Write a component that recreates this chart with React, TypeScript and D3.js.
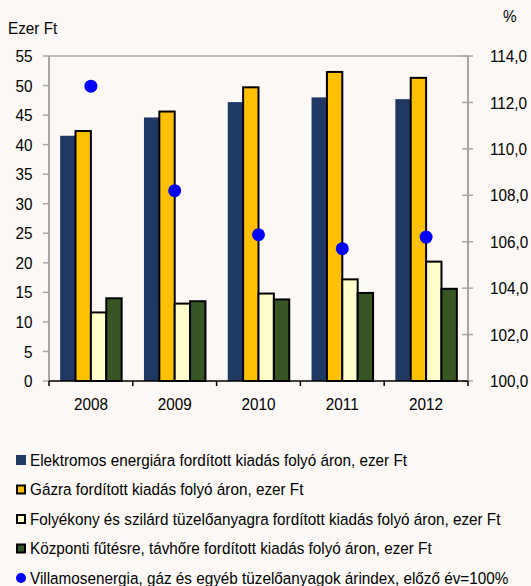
import React from "react";
import * as d3 from "d3";

const years = ["2008", "2009", "2010", "2011", "2012"];
const electricity = [41.5, 44.6, 47.2, 48.0, 47.7];
const gas = [42.3, 45.6, 49.7, 52.3, 51.3];
const liquidSolid = [11.6, 13.1, 14.8, 17.2, 20.2];
const districtHeat = [14.0, 13.5, 13.8, 14.9, 15.6];
const priceIndex = [112.7, 108.2, 106.3, 105.7, 106.2];

const leftTicks = [0, 5, 10, 15, 20, 25, 30, 35, 40, 45, 50, 55];
const rightTicks = [100, 102, 104, 106, 108, 110, 112, 114];

const seriesNames = [
  "Elektromos energiára fordított kiadás folyó áron, ezer Ft",
  "Gázra fordított kiadás folyó áron, ezer Ft",
  "Folyékony és szilárd tüzelőanyagra fordított kiadás folyó áron, ezer Ft",
  "Központi fűtésre, távhőre fordított kiadás folyó áron, ezer Ft",
];
const dotName = "Villamosenergia, gáz és egyéb tüzelőanyagok árindex, előző év=100%";

const barSeries = [electricity, gas, liquidSolid, districtHeat];
const fills = ["#1F3864", "#FFC000", "#FFFFCC", "#375623"];
const strokes = ["none", "#000", "#000", "#000"];

const W = 531;
const H = 586;
const left = 49;
const right = 468;
const top = 56;
const bottom = 381;
const FONT = "'Liberation Sans', Arial, sans-serif";

function NText(props: {
  x: number;
  y: number;
  size: number;
  sx: number;
  anchor?: "start" | "middle" | "end";
  dy?: string;
  children: React.ReactNode;
}) {
  return (
    <text
      transform={`translate(${props.x},${props.y}) scale(${props.sx},1)`}
      textAnchor={props.anchor || "start"}
      dy={props.dy}
      fontSize={props.size}
      fill="#000"
    >
      {props.children}
    </text>
  );
}

export default function App() {
  const x0 = d3.scaleBand<string>().domain(years).range([left, right]);
  const bw = x0.bandwidth();
  const gap = (bw * 1.45) / 5.45;
  const x1 = d3
    .scaleBand<number>()
    .domain([0, 1, 2, 3])
    .range([gap / 2, bw - gap / 2]);
  const yL = d3.scaleLinear().domain([0, 55]).range([bottom, top]);
  const yR = d3.scaleLinear().domain([100, 114]).range([bottom, top]);

  const legendY = [460, 489.5, 519, 548.5, 578];
  const TS = 17;
  const TX = 0.9;
  const LS = 16.5;
  const LX = 0.927;

  return (
    <svg
      width={W}
      height={H}
      style={{ position: "absolute", left: 0, top: 0, background: "#FBF8F5" }}
      fontFamily={FONT}
    >
      <rect x={0} y={0} width={W} height={H} fill="#FBF8F5" />
      {/* frame */}
      <line x1={left} x2={right} y1={top} y2={top} stroke="#A6A6A6" strokeWidth={1.5} />
      <line x1={left} x2={left} y1={top} y2={bottom} stroke="#A6A6A6" strokeWidth={2} />
      <line x1={right} x2={right} y1={top} y2={bottom} stroke="#A6A6A6" strokeWidth={2} />

      {/* left ticks */}
      {leftTicks.map((t) => (
        <g key={"l" + t}>
          <line x1={left - 6} x2={left} y1={yL(t)} y2={yL(t)} stroke="#A6A6A6" strokeWidth={1.5} />
          <NText x={32.5} y={yL(t)} dy="0.36em" anchor="end" size={TS} sx={TX}>
            {t}
          </NText>
        </g>
      ))}
      {/* right ticks */}
      {rightTicks.map((t) => (
        <g key={"r" + t}>
          <line x1={right - 6} x2={right + 5} y1={yR(t)} y2={yR(t)} stroke="#A6A6A6" strokeWidth={1.5} />
          <NText x={490} y={yR(t)} dy="0.36em" size={TS} sx={TX}>
            {t.toFixed(1).replace(".", ",")}
          </NText>
        </g>
      ))}

      <NText x={8} y={34} size={TS} sx={TX}>Ezer Ft</NText>
      <NText x={503} y={22} size={TS} sx={TX}>%</NText>

      {/* bars */}
      {years.map((yr, i) => (
        <g key={yr} transform={`translate(${x0(yr)},0)`}>
          {barSeries.map((s, j) => (
            <rect
              key={j}
              x={x1(j)!}
              y={yL(s[i])}
              width={x1.bandwidth()}
              height={yL(0) - yL(s[i])}
              fill={fills[j]}
              stroke={strokes[j]}
              strokeWidth={2}
            />
          ))}
        </g>
      ))}

      {/* bottom axis */}
      <line x1={left} x2={right} y1={bottom} y2={bottom} stroke="#000" strokeWidth={1.5} />
      {[...years.map((y) => x0(y)!), right].map((x, i) => (
        <line key={"bt" + i} x1={x} x2={x} y1={bottom} y2={bottom + 5} stroke="#000" strokeWidth={1.5} />
      ))}
      {years.map((yr) => (
        <NText key={"yl" + yr} x={x0(yr)! + bw / 2} y={410} anchor="middle" size={TS} sx={TX}>
          {yr}
        </NText>
      ))}

      {/* dots */}
      {years.map((yr, i) => (
        <circle key={"d" + yr} cx={x0(yr)! + bw / 2} cy={yR(priceIndex[i])} r={6.5} fill="#0000FF" />
      ))}

      {/* legend */}
      {seriesNames.map((n, j) => (
        <g key={"lg" + j}>
          <rect
            x={j === 0 ? 16 : 17}
            y={legendY[j] - (j === 0 ? 5 : 4)}
            width={j === 0 ? 10 : 8}
            height={j === 0 ? 10 : 8}
            fill={fills[j]}
            stroke={strokes[j]}
            strokeWidth={2}
          />
          <NText x={30} y={legendY[j]} dy="0.36em" size={LS} sx={LX}>
            {n}
          </NText>
        </g>
      ))}
      <circle cx={21} cy={legendY[4]} r={5} fill="#0000FF" />
      <NText x={30} y={legendY[4]} dy="0.36em" size={LS} sx={LX}>
        {dotName}
      </NText>
    </svg>
  );
}
